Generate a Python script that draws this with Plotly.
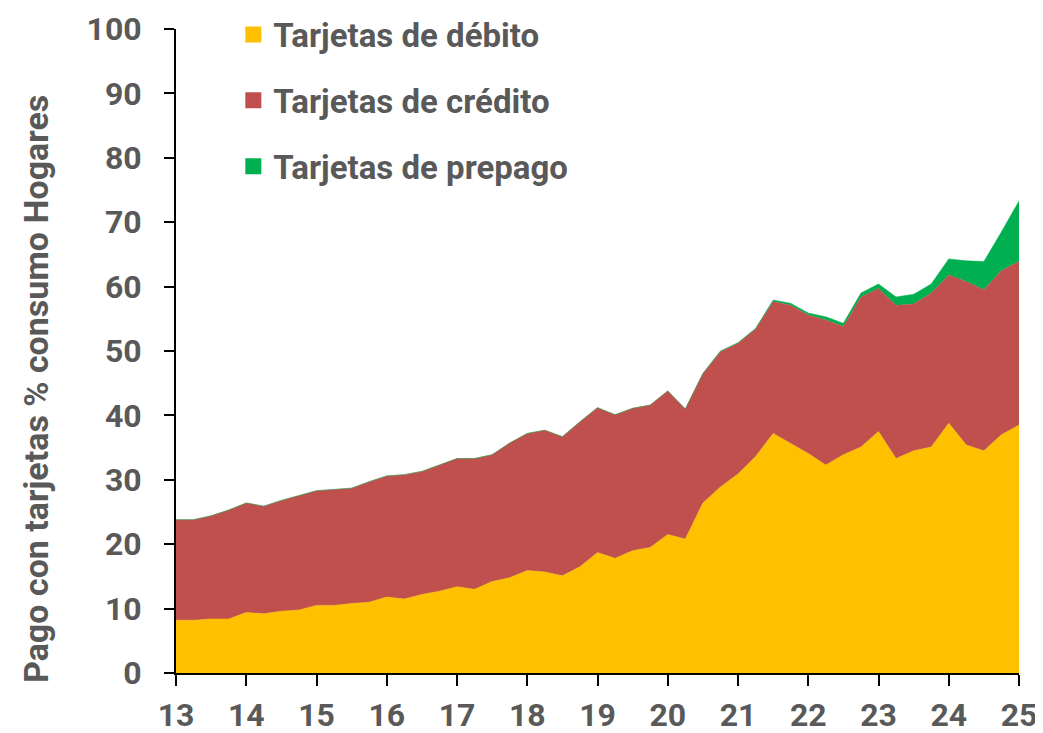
import plotly.graph_objects as go

quarters = [f"{y}-Q{q}" for y in range(2013, 2025) for q in (1, 2, 3, 4)] + ["2025-Q1"]

debito = [8.2, 8.2, 8.4, 8.4, 9.4, 9.2, 9.6, 9.8, 10.5, 10.5, 10.8, 11.0, 11.8, 11.5, 12.2, 12.7,
          13.4, 13.0, 14.2, 14.8, 15.9, 15.7, 15.1, 16.5, 18.7, 17.8, 19.0, 19.5, 21.5, 20.8, 26.4, 28.9,
          30.9, 33.6, 37.2, 35.7, 34.1, 32.3, 33.9, 35.1, 37.5, 33.3, 34.5, 35.1, 38.8, 35.4, 34.5, 37.0,
          38.5]
credito = [15.6, 15.6, 16.0, 16.9, 17.0, 16.7, 17.2, 17.8, 17.8, 18.0, 17.9, 18.7, 18.8, 19.3, 19.1, 19.6,
           19.9, 20.3, 19.7, 20.9, 21.3, 22.0, 21.6, 22.5, 22.5, 22.3, 22.1, 22.1, 22.3, 20.2, 20.1, 21.0,
           20.3, 19.8, 20.5, 21.4, 21.5, 22.5, 19.9, 23.3, 22.2, 23.8, 22.8, 23.9, 23.0, 25.4, 25.0, 25.5,
           25.4]
prepago = [0.0] * 31 + [0.1, 0.1, 0.1, 0.2, 0.3, 0.3, 0.5, 0.5, 0.6, 0.7, 1.3, 1.5, 1.4, 2.5, 3.2, 4.4,
                        6.0, 9.4]

series_names = ["Tarjetas de débito", "Tarjetas de crédito", "Tarjetas de prepago"]
series_colors = ["#FFC000", "#C0504D", "#00B050"]
x_tick_vals = list(range(13, 26))
x_tick_text = [f"<b>{v}</b>" for v in x_tick_vals]
y_tick_vals = list(range(0, 101, 10))
y_tick_text = [f"<b>{v}</b>" for v in y_tick_vals]
y_title = "Pago con tarjetas % consumo Hogares"


def q_to_x(label):
    y, q = label.split("-Q")
    return int(y) - 2000 + (int(q) - 1) / 4


x = [q_to_x(q) for q in quarters]

fig = go.Figure()
for i, (name, vals, col) in enumerate(zip(series_names, [debito, credito, prepago], series_colors)):
    fig.add_trace(go.Scatter(
        x=x, y=vals, name=name, mode="lines", stackgroup="one",
        line=dict(width=0.5, color=col), fillcolor=col, showlegend=False,
        hoverinfo="x+y"))
# legend entries (square swatches)
for i, (name, col) in enumerate(zip(series_names, series_colors)):
    fig.add_trace(go.Scatter(
        x=[None], y=[None], mode="markers", name=f"<b>{name}</b>",
        marker=dict(symbol="square", size=20, color=col), legendgroup=f"g{i}",
        showlegend=True))

font_family = "Roboto, Arial, sans-serif"
gray = "#595959"

fig.update_layout(
    width=1035, height=725,
    margin=dict(l=168, r=24, t=21, b=60, autoexpand=False),
    paper_bgcolor="white", plot_bgcolor="white",
    font=dict(family=font_family, color=gray),
    showlegend=True,
    legend=dict(x=0.068, y=1.035, xanchor="left", yanchor="top",
                traceorder="grouped", tracegroupgap=20,
                font=dict(size=33, color=gray, family=font_family),
                bgcolor="rgba(0,0,0,0)", itemwidth=30),
    xaxis=dict(range=[13, 25], tickvals=x_tick_vals, ticktext=x_tick_text,
               showgrid=False, zeroline=False, showline=True, linecolor="black", linewidth=2,
               ticks="outside", ticklen=11, tickwidth=2, tickcolor="black",
               ticklabelstandoff=2, automargin=False,
               tickfont=dict(size=32, color=gray, family=font_family)),
    yaxis=dict(range=[0, 100], tickvals=y_tick_vals, ticktext=y_tick_text,
               showgrid=False, zeroline=False,
               showline=True, linecolor="black", linewidth=2,
               ticks="outside", ticklen=10, tickwidth=2, tickcolor="black",
               ticklabelstandoff=16, automargin=False,
               tickfont=dict(size=32, color=gray, family=font_family)),
    annotations=[dict(text=f"<b>{y_title}</b>", textangle=-90, xref="paper", yref="paper",
                      x=-0.166, y=0.441, xanchor="center", yanchor="middle", showarrow=False,
                      font=dict(size=34, color=gray, family=font_family))],
)

fig.write_html("out.html")
